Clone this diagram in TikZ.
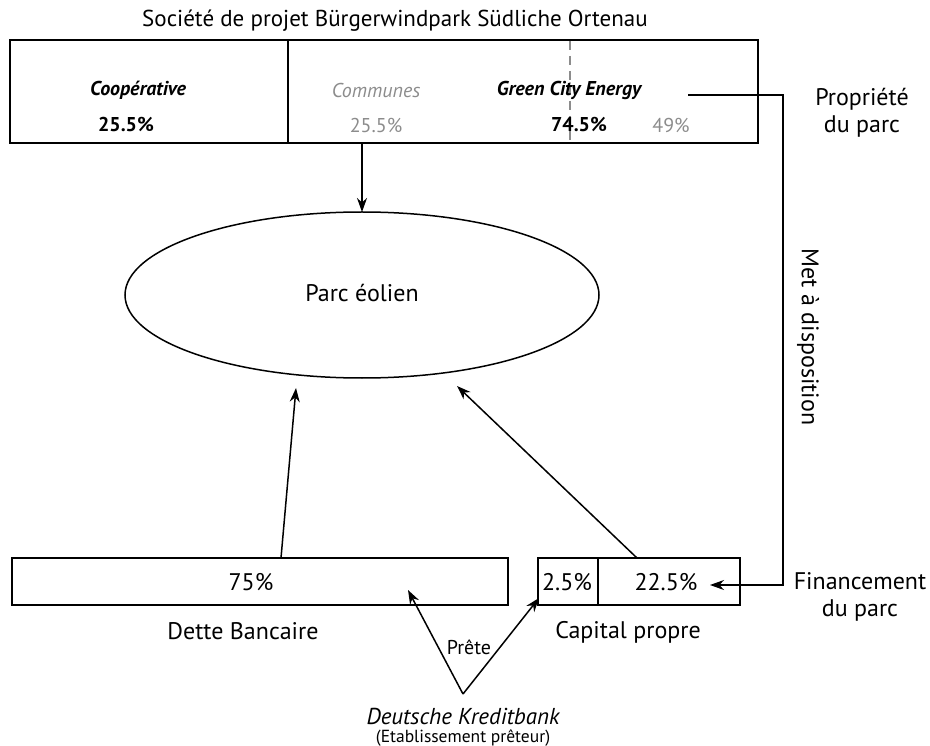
\documentclass[tikz,border=0pt]{standalone}
\usepackage{fontspec}
\setmainfont{PT Sans}
\usetikzlibrary{arrows.meta}
\definecolor{lgray}{gray}{0.55}
\tikzset{
  conn/.style={line width=1.5pt},
  arr/.style={conn,-{Stealth[length=14pt,width=10pt]}},
  txt/.style={inner sep=0pt,anchor=center},
  big/.style={txt,font=\fontsize{24}{27}\selectfont},
  mid/.style={txt,font=\fontsize{20}{23}\selectfont},
}
\begin{document}
\begin{tikzpicture}[x=1pt,y=-1pt]
\useasboundingbox (0,0) rectangle (930,746);
% title
\node[txt,font=\fontsize{23}{26}\selectfont] (title) at (395,21) {Société de projet Bürgerwindpark Südliche Ortenau};
% top box
\draw[line width=2.6pt] (10,40) rectangle (758,143);
\draw[line width=1.6pt] (288,40) -- (288,143);
\draw[lgray,line width=1.2pt,dash pattern=on 9pt off 6pt] (570,41) -- (570,142);
\node[mid,font=\fontsize{20}{23}\selectfont\bfseries\itshape] (coop) at (138,90) {Coopérative};
\node[mid,font=\fontsize{20}{23}\selectfont\bfseries] (coopp) at (126,125) {25.5\%};
\node[mid,text=lgray,font=\fontsize{20}{23}\selectfont\itshape] (comm) at (376,91) {Communes};
\node[mid,text=lgray] (commp) at (376,125) {25.5\%};
\node[mid,font=\fontsize{20}{23}\selectfont\bfseries\itshape] (gce) at (569,90) {Green City Energy};
\node[mid,font=\fontsize{20}{23}\selectfont\bfseries] (gcep) at (579,125) {74.5\%};
\node[mid,text=lgray] (gcep2) at (671,125) {49\%};
\coordinate (top) at (362,143);
% ellipse
\draw[line width=1.5pt] (362,295) ellipse [x radius=237, y radius=83];
\node[big] (parc) at (362,293) {Parc éolien};
\coordinate (eltop) at (362,212);
\draw[arr] (top) -- (eltop);
% Dette box
\draw[line width=1.8pt] (12,558) rectangle (508,605);
\node[big] (dette) at (251,582) {75\%};
\node[big] (detteL) at (243,631) {Dette Bancaire};
% Capital box
\draw[line width=1.2pt] (538,558) rectangle (740,605);
\draw[line width=1.2pt] (598,558) -- (598,605);
\node[big] (cap1) at (567,582) {2.5\%};
\node[big] (cap2) at (666,582) {22.5\%};
\node[big] (capL) at (628,632) {Capital propre};
% arrows to ellipse
\coordinate (d1) at (281,558);
\coordinate (e1) at (296,388);
\draw[arr] (d1) -- (e1);
\coordinate (c1) at (637,558);
\coordinate (e2) at (457,386);
\draw[arr] (c1) -- (e2);
% ownership loop
\coordinate (g1) at (688,95);
\coordinate (g2) at (783,95);
\coordinate (g3) at (783,585);
\coordinate (g4) at (710,585);
\draw[arr] (g1) -- (g2) -- (g3) -- (g4);
\node[big,align=center] (prop) at (862,113) {Propriété\\du parc};
\node[big,rotate=-90] (met) at (808,337) {Met à disposition};
\node[big,align=center] (fin) at (860,597) {Financement\\du parc};
% bank
\coordinate (bank) at (463,694);
\coordinate (b1) at (408,590);
\coordinate (b2) at (539,598);
\draw[arr] (bank) -- (b1);
\draw[arr] (bank) -- (b2);
\node[txt,font=\fontsize{20}{23}\selectfont] (prete) at (469,647) {Prête};
\node[txt,anchor=base,font=\fontsize{23}{26}\selectfont\itshape] (dkb) at (463,724) {Deutsche Kreditbank};
\node[txt,anchor=base,font=\fontsize{17.5}{20}\selectfont] (etab) at (463,742) {(Etablissement prêteur)};
\end{tikzpicture}
\end{document}
